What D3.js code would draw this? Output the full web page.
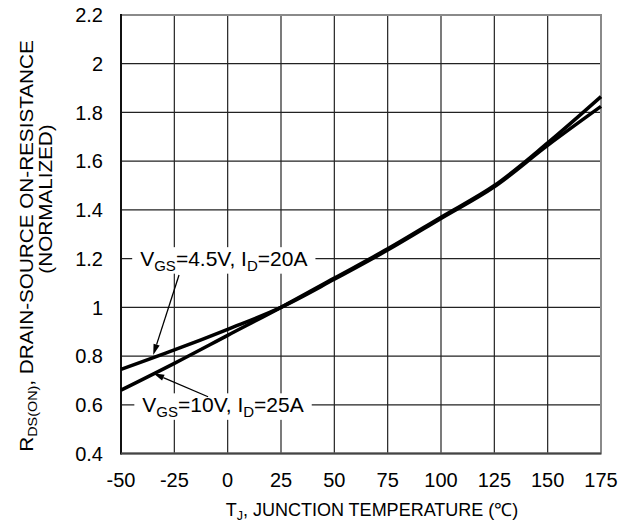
<!DOCTYPE html>
<html>
<head>
<meta charset="utf-8">
<script src="https://cdn.jsdelivr.net/npm/d3@7"></script>
<style>
  html, body { margin: 0; padding: 0; background: #fff; }
  svg text { font-family: "Liberation Sans", Arial, sans-serif; fill: #000; }
</style>
</head>
<body>
<div id="chart"></div>
<script>
(() => {
  "use strict";

  // ---- data ----
  const temps = [-50, -25, 0, 25, 50, 75, 100, 125, 150, 175];
  const rdsVgs45 = [0.745, 0.825, 0.91, 1.0, 1.115, 1.235, 1.365, 1.495, 1.665, 1.825];
  const rdsVgs10 = [0.66, 0.77, 0.885, 1.0, 1.12, 1.24, 1.37, 1.5, 1.675, 1.865];
  const xTicks = [-50, -25, 0, 25, 50, 75, 100, 125, 150, 175];
  const yTicks = [0.4, 0.6, 0.8, 1, 1.2, 1.4, 1.6, 1.8, 2, 2.2];

  // annotations in data units: label anchor + arrow start -> tip
  const notes = [
    { main: "V", sub: "GS", rest: "=4.5V, I", sub2: "D", tail: "=20A",
      tx: -41, ty: 1.2, from: [-22.8, 1.133], to: [-34.9, 0.804] },
    { main: "V", sub: "GS", rest: "=10V, I", sub2: "D", tail: "=25A",
      tx: -40, ty: 0.6, from: [-9.2, 0.633], to: [-34.9, 0.729] }
  ];

  const width = 639, height = 522;
  const margin = { top: 15, right: 38, bottom: 68.5, left: 121 };
  const innerW = width - margin.left - margin.right;
  const innerH = height - margin.top - margin.bottom;

  const svg = d3.select("#chart").append("svg")
    .attr("width", width).attr("height", height);
  const g = svg.append("g").attr("transform", `translate(${margin.left},${margin.top})`);

  const x = d3.scaleLinear().domain([-50, 175]).range([0, innerW]);
  const y = d3.scaleLinear().domain([0.4, 2.2]).range([innerH, 0]);

  // grid
  g.append("g").selectAll("line").data(xTicks.slice(1, -1)).join("line")
    .attr("x1", d => x(d)).attr("x2", d => x(d))
    .attr("y1", 0).attr("y2", innerH)
    .attr("stroke", "#222").attr("stroke-width", 1.2);
  g.append("g").selectAll("line").data(yTicks.slice(1, -1)).join("line")
    .attr("x1", 0).attr("x2", innerW)
    .attr("y1", d => y(d)).attr("y2", d => y(d))
    .attr("stroke", "#222").attr("stroke-width", 1.2);

  // frame
  g.append("rect").attr("x", 0).attr("y", 0).attr("width", innerW).attr("height", innerH)
    .attr("fill", "none").attr("stroke", "#8a8a8a").attr("stroke-width", 2);
  g.append("line").attr("x1", 0).attr("x2", 0).attr("y1", -1).attr("y2", innerH + 1)
    .attr("stroke", "#111").attr("stroke-width", 2);
  g.append("line").attr("x1", 0).attr("x2", innerW).attr("y1", innerH).attr("y2", innerH)
    .attr("stroke", "#444").attr("stroke-width", 2);

  // tick labels (plain hyphen for negatives, as in the reference)
  g.append("g").selectAll("text").data(xTicks).join("text")
    .attr("x", d => x(d)).attr("y", innerH + 33.5)
    .attr("text-anchor", "middle").style("font-size", "20px")
    .text(d => String(d));
  g.append("g").selectAll("text").data(yTicks).join("text")
    .attr("x", -18).attr("y", d => y(d)).attr("dy", "0.36em")
    .attr("text-anchor", "end").style("font-size", "20px")
    .text(d => String(d));

  // curves
  const line = d3.line().x(d => x(d[0])).y(d => y(d[1])).curve(d3.curveCatmullRom.alpha(0.5));
  [rdsVgs45, rdsVgs10].forEach(vals => {
    g.append("path")
      .datum(temps.map((t, i) => [t, vals[i]]))
      .attr("fill", "none").attr("stroke", "#000")
      .attr("stroke-width", 3.5).attr("stroke-linecap", "butt")
      .attr("d", line);
  });

  // annotations
  notes.forEach(n => {
    const t = g.append("text")
      .attr("x", x(n.tx)).attr("y", y(n.ty)).attr("dy", "0.36em")
      .style("font-size", "21px");
    t.append("tspan").text(n.main);
    t.append("tspan").attr("dy", "4.5").style("font-size", "15px").text(n.sub);
    t.append("tspan").attr("dy", "-4.5").text(n.rest);
    t.append("tspan").attr("dy", "4.5").style("font-size", "15px").text(n.sub2);
    t.append("tspan").attr("dy", "-4.5").text(n.tail);
    const bb = t.node().getBBox();
    g.insert("rect", () => t.node())
      .attr("x", bb.x - 8).attr("y", bb.y).attr("width", bb.width + 16).attr("height", bb.height)
      .attr("fill", "#fff");

    const [x0, y0] = [x(n.from[0]), y(n.from[1])];
    const [x1, y1] = [x(n.to[0]), y(n.to[1])];
    const ang = Math.atan2(y1 - y0, x1 - x0);
    const len = 11, half = 3.2;
    const bx = x1 - len * Math.cos(ang), by = y1 - len * Math.sin(ang);
    g.append("line").attr("x1", x0).attr("y1", y0).attr("x2", bx).attr("y2", by)
      .attr("stroke", "#000").attr("stroke-width", 1.3);
    g.append("path")
      .attr("d", `M${x1},${y1}L${bx - half * Math.sin(ang)},${by + half * Math.cos(ang)}` +
                 `L${bx + half * Math.sin(ang)},${by - half * Math.cos(ang)}Z`)
      .attr("fill", "#000");
  });

  // axis titles
  const xt = svg.append("text")
    .attr("x", margin.left + innerW / 2 + 11).attr("y", 516)
    .attr("text-anchor", "middle").style("font-size", "18px");
  xt.append("tspan").text("T");
  xt.append("tspan").attr("dy", "4").style("font-size", "12.5px").text("J");
  xt.append("tspan").attr("dy", "-4").text(", JUNCTION TEMPERATURE (\u2103)");

  // y title: the source glyphs run slightly taller than wide, so stretch along the page's y
  const yt1 = svg.append("text")
    .attr("transform", "translate(33,246) scale(1,1.15) rotate(-90)")
    .attr("text-anchor", "middle").style("font-size", "18px");
  yt1.append("tspan").text("R");
  yt1.append("tspan").attr("dy", "4").style("font-size", "12.5px").text("DS(ON)");
  yt1.append("tspan").attr("dy", "-4").text(", DRAIN-SOURCE ON-RESISTANCE");

  svg.append("text")
    .attr("transform", "translate(52,199) scale(1,1.15) rotate(-90)")
    .attr("text-anchor", "middle").style("font-size", "18px")
    .text("(NORMALIZED)");
})();
</script>
</body>
</html>
